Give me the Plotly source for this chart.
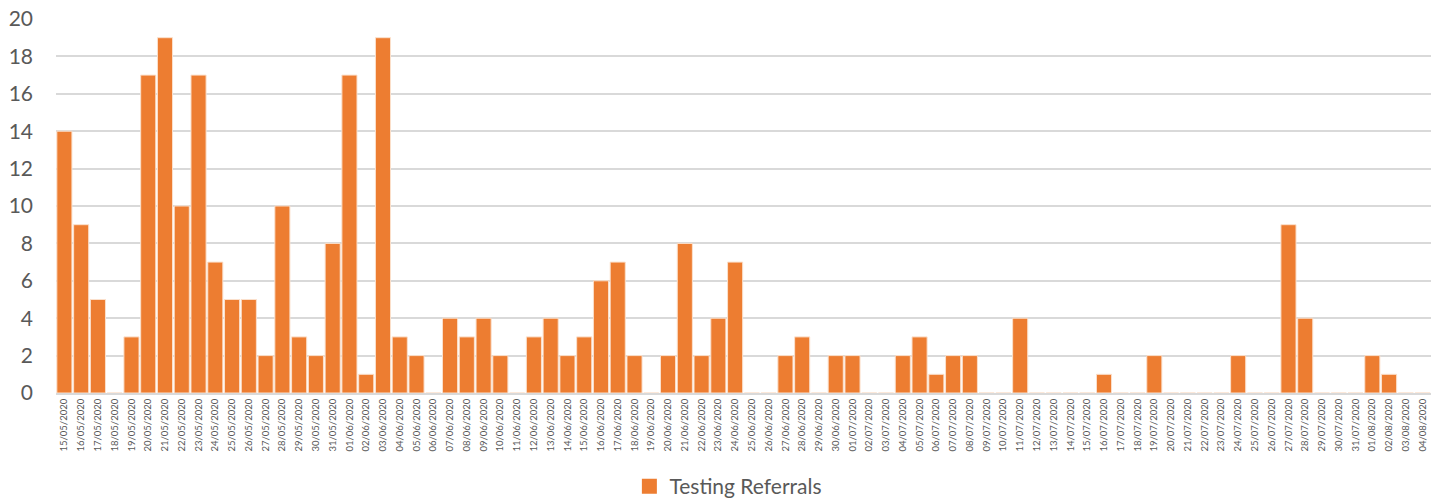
import plotly.graph_objects as go

dates = (
    [f"{d:02d}/05/2020" for d in range(15, 32)]
    + [f"{d:02d}/06/2020" for d in range(1, 31)]
    + [f"{d:02d}/07/2020" for d in range(1, 32)]
    + [f"{d:02d}/08/2020" for d in range(1, 5)]
)

may_vals = [14, 9, 5, 0, 3, 17, 19, 10, 17, 7, 5, 5, 2, 10, 3, 2, 8]
june_vals = [17, 1, 19, 3, 2, 0, 4, 3, 4, 2, 0, 3, 4, 2, 3, 6, 7, 2, 0, 2,
             8, 2, 4, 7, 0, 0, 2, 3, 0, 2]
july_vals = [2, 0, 0, 2, 3, 1, 2, 2, 0, 0, 4, 0, 0, 0, 0, 1, 0, 0, 2, 0,
             0, 0, 0, 2, 0, 0, 9, 4, 0, 0, 0]
aug_vals = [2, 1, 0, 0]
values = may_vals + june_vals + july_vals + aug_vals

y_ticks = [0, 2, 4, 6, 8, 10, 12, 14, 16, 18, 20]

font_family = "Lato, 'Open Sans', sans-serif"
text_gray = "#595959"
grid_gray = "#d9d9d9"
orange = "#ED7D31"

fig = go.Figure()
fig.add_trace(go.Bar(
    x=dates,
    y=values,
    name="Testing Referrals",
    marker=dict(color=orange, line=dict(color="#fbe0cc", width=1)),
    showlegend=False,
))
# legend-only entry with a larger square swatch
fig.add_trace(go.Scatter(
    x=[None],
    y=[None],
    mode="markers",
    name="Testing Referrals",
    marker=dict(symbol="square", size=15, color=orange),
    showlegend=True,
))

fig.update_layout(
    width=1431,
    height=501,
    margin=dict(l=56, r=0, t=19, b=108, autoexpand=False),
    paper_bgcolor="white",
    plot_bgcolor="white",
    bargap=0.1,
    font=dict(family=font_family, color=text_gray),
    legend=dict(
        orientation="h",
        x=0.489, xanchor="center",
        y=-0.25, yanchor="middle",
        font=dict(size=21, color=text_gray),
        itemwidth=30,
    ),
    xaxis=dict(
        type="category",
        tickmode="linear",
        dtick=1,
        tickangle=-90,
        tickfont=dict(size=9.5, color=text_gray),
        showgrid=False,
        showline=True,
        linecolor=grid_gray,
        linewidth=2,
        ticks="",
        automargin=False,
    ),
    yaxis=dict(
        range=[0, 20],
        tickvals=y_ticks,
        tickfont=dict(size=21, color=text_gray),
        showgrid=True,
        gridcolor=grid_gray,
        gridwidth=2,
        zeroline=False,
        ticks="",
        ticklabelstandoff=22,
        automargin=False,
    ),
)

fig.write_html(
    "out.html",
    config={"displayModeBar": False},
    post_script="document.body.style.margin='0';document.body.style.overflow='hidden';",
)
